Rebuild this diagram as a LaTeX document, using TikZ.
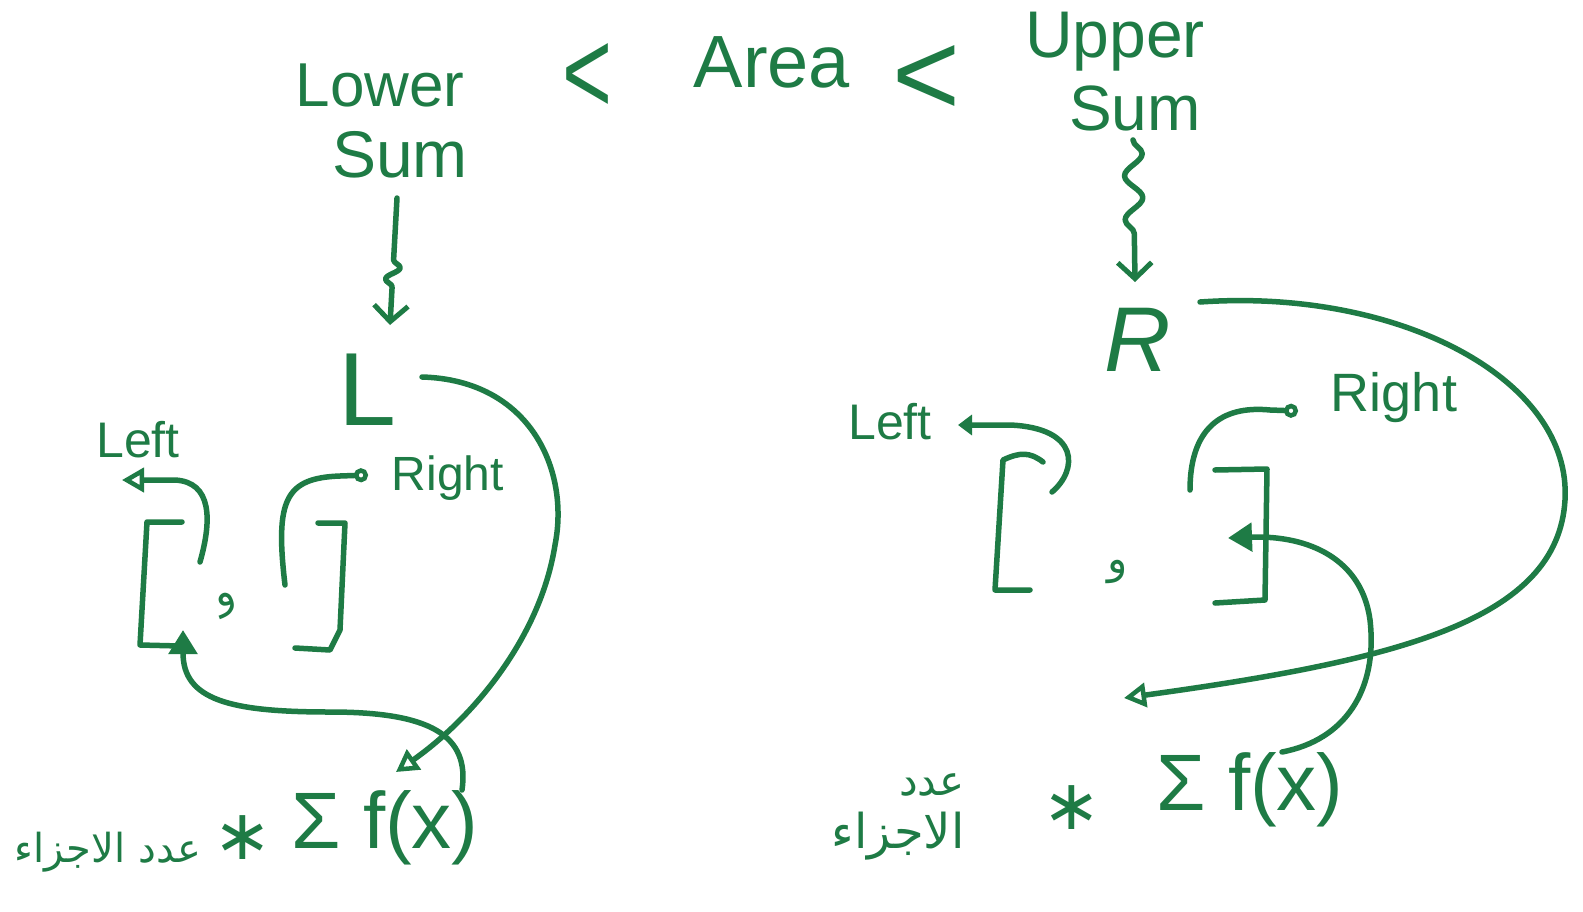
\documentclass[tikz,border=0pt]{standalone}
\usepackage{fontspec}
\setmainfont{Liberation Sans}
\newfontfamily\arabicfont[Script=Arabic]{DejaVu Sans}
\newfontfamily\symfont{DejaVu Sans}
\TeXXeTstate=1
\usetikzlibrary{arrows.meta,decorations.pathmorphing}
\definecolor{ink}{HTML}{1E7B45}
\tikzset{
  pen/.style={draw=ink, line width=5.5pt, line cap=round, line join=round},
  word/.style={text=ink, inner sep=0pt, font=\fontsize{64}{66}\selectfont},
  small/.style={text=ink, inner sep=0pt, font=\fontsize{50}{52}\selectfont},
  formula/.style={text=ink, inner sep=0pt, font=\fontsize{80}{80}\selectfont},
  arab/.style={text=ink, inner sep=0pt, font=\arabicfont\fontsize{42}{46}\selectfont},
  rel/.style={text=ink, inner sep=0pt, font=\fontsize{80}{80}\selectfont},
  opentip/.style={-{Triangle[open,length=22pt,width=24pt,line width=4.5pt]}},
  filltip/.style={-{Triangle[length=24pt,width=28pt]}},
  smalltip/.style={-{Triangle[length=14pt,width=20pt]}},
  circtip/.style={-{Circle[open,length=14pt,line width=4.5pt]}},
  barb/.style={-{Straight Barb[length=16pt,width=34pt,line width=5pt]}}
}
\begin{document}
\begin{tikzpicture}[x=1pt,y=-1pt]
\fill[white] (0,0) rectangle (1583,911);
\useasboundingbox (0,0) rectangle (1583,911);

% top row
\node[word, font=\fontsize{62}{64}\selectfont] (lower) at (380,85) {Lower};
\node[word, font=\fontsize{66}{68}\selectfont] (lsum) at (400,155) {Sum};
\node[rel] (lt1) at (587,78) {\resizebox{50pt}{70pt}{<}};
\node[word, font=\fontsize{74}{76}\selectfont] (area) at (772,62) {Area};
\node[rel] (lt2) at (926,80) {\resizebox{68pt}{70pt}{<}};
\node[word, font=\fontsize{66}{68}\selectfont] (upper) at (1115,42) {Upper};
\node[word, font=\fontsize{64}{66}\selectfont] (usum) at (1135,108) {Sum};

% L and R
\node[text=ink, inner sep=0pt, font=\fontsize{104}{104}\selectfont] (L) at (367,390) {L};
\node[text=ink, inner sep=0pt, font=\itshape\fontsize{92}{92}\selectfont] (R) at (1138,340) {R};

\coordinate (lwend) at (390,325);
\coordinate (rwend) at (1135,282);
\draw[pen, barb, decoration={snake, amplitude=7pt, segment length=24pt, pre length=62pt, post length=30pt}, decorate] (397,198) -- (lwend);
\draw[pen, barb, decoration={snake, amplitude=9pt, segment length=44pt, post length=30pt}, decorate] (1133,140) -- (rwend);

% left brackets
\draw[pen] (182,522) -- (147,522) -- (140,645) -- (180,646);
\draw[pen] (318,523) -- (345,523) -- (340,630) -- (330,650) -- (295,648);
\node[arab, rotate=20] (lwaw) at (228,605) {\beginR و\endR};

\node[small] (lleft) at (138,440) {Left};
\node[small, font=\fontsize{48}{50}\selectfont] (lright) at (448,478) {Right};
\coordinate (lls) at (200,562);
\coordinate (llt) at (122,480);
\draw[pen, opentip] (lls) .. controls (212,520) and (212,482) .. (175,480) -- (llt);
\coordinate (lrs) at (285,585);
\coordinate (lrt) at (368,475);
\draw[pen, circtip] (lrs) .. controls (275,500) and (285,478) .. (340,476) -- (lrt);

% left bottom formula
\node[formula] (lsig) at (385,828) {Σ f(x)};
\node[text=ink, inner sep=0pt, font=\symfont\fontsize{70}{70}\selectfont] (last) at (243,838) {∗};
\node[arab, font=\arabicfont\fontsize{40}{44}\selectfont] (lar) at (108,852) {\beginR عدد الاجزاء\endR};

\coordinate (lbig) at (422,377);
\coordinate (lbigend) at (396,772);
\draw[pen, opentip] (lbig) .. controls (530,380) and (570,470) .. (555,545) .. controls (540,640) and (470,720) .. (lbigend);
\coordinate (lfx) at (462,790);
\coordinate (lbr) at (183,630);
\draw[pen, filltip] (lfx) .. controls (470,735) and (430,712) .. (330,712) .. controls (230,712) and (183,700) .. (lbr);

% right brackets
\draw[pen] (1043,462) .. controls (1030,452) and (1020,452) .. (1003,460) -- (995,590) -- (1030,590);
\draw[pen] (1215,470) -- (1267,469) -- (1265,600) -- (1215,603);
\node[arab] (rwaw) at (1118,572) {\beginR و\endR};

\node[small] (rleft) at (890,422) {Left};
\node[small, font=\fontsize{54}{56}\selectfont] (rright) at (1394,398) {Right};
\coordinate (rls) at (1052,492);
\coordinate (rlt) at (958,425);
\draw[pen, smalltip] (rls) .. controls (1078,470) and (1080,428) .. (1010,425) -- (rlt);
\coordinate (rrs) at (1190,490);
\coordinate (rrt) at (1298,411);
\draw[pen, circtip] (rrs) .. controls (1190,430) and (1220,405) .. (1270,410) -- (rrt);

% right bottom formula
\node[formula] (rsig) at (1250,790) {Σ f(x)};
\node[text=ink, inner sep=0pt, font=\symfont\fontsize{70}{70}\selectfont] (rast) at (1072,808) {∗};
\node[arab] (rar1) at (932,785) {\beginR عدد\endR};
\node[arab, font=\arabicfont\fontsize{48}{50}\selectfont] (rar2) at (898,836) {\beginR الاجزاء\endR};

\coordinate (rbig) at (1200,302);
\coordinate (rbigend) at (1124,698);
\draw[pen, opentip] (rbig) .. controls (1400,288) and (1572,380) .. (1565,500) .. controls (1558,620) and (1400,660) .. (rbigend);
\coordinate (rfx) at (1282,752);
\coordinate (rbr) at (1228,538);
\draw[pen, filltip] (rfx) .. controls (1345,740) and (1378,690) .. (1370,620) .. controls (1362,560) and (1310,535) .. (rbr);
\end{tikzpicture}
\end{document}
